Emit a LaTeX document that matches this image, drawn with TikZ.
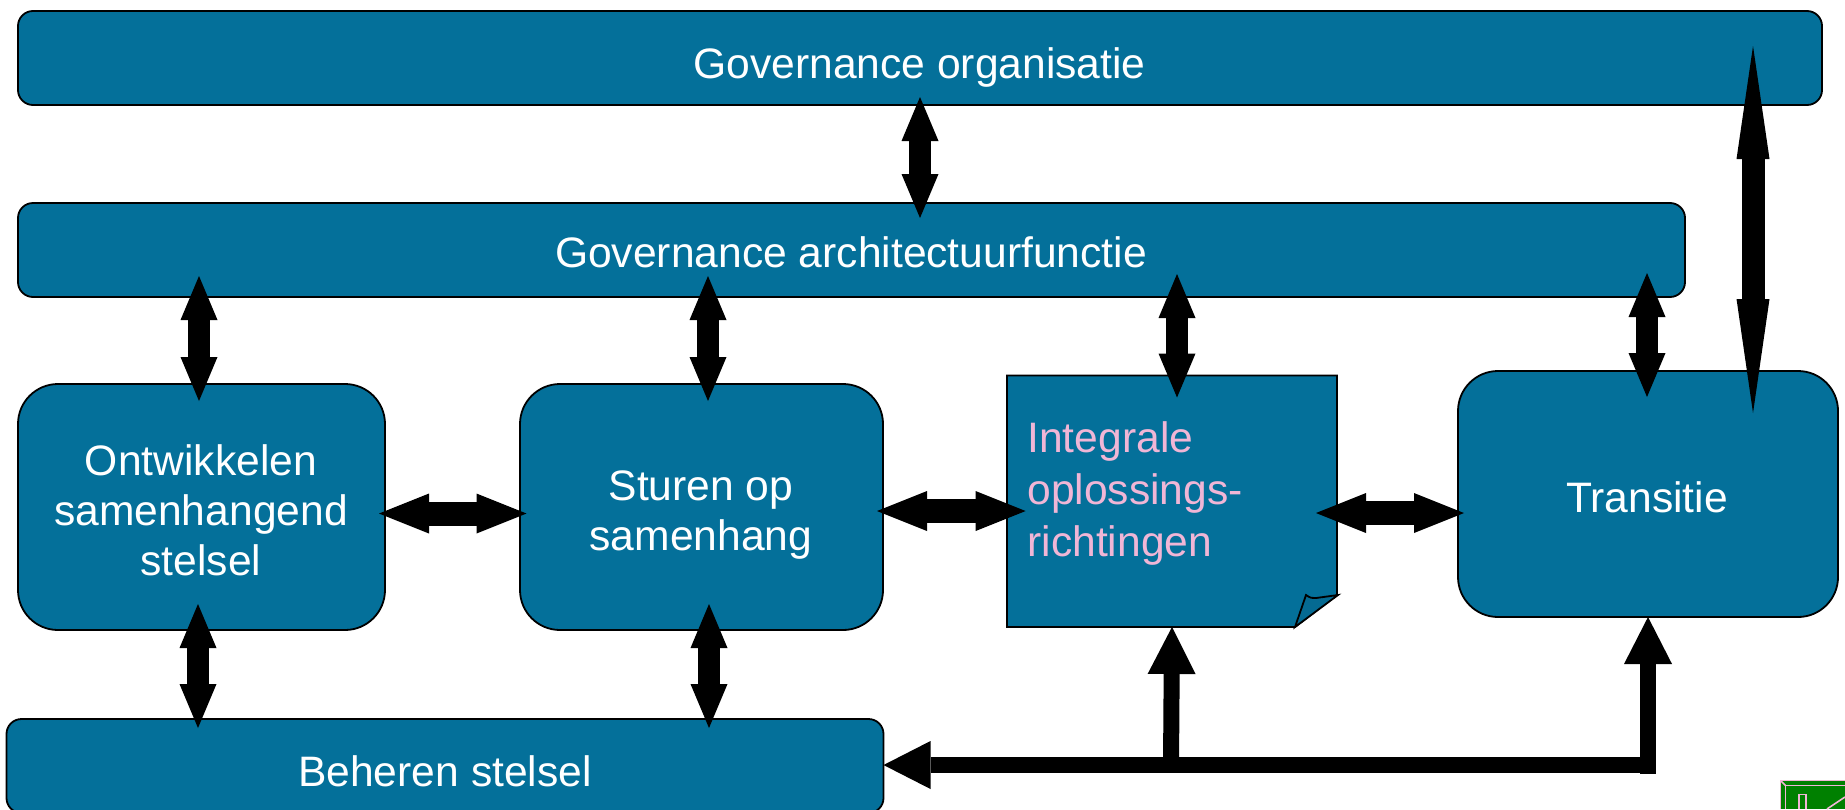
\documentclass[tikz,border=0pt]{standalone}
\usepackage{fontspec}
\setmainfont{Liberation Sans}
\usetikzlibrary{arrows.meta}
\definecolor{boxblue}{HTML}{04709A}
\definecolor{foldblue}{HTML}{056A92}
\definecolor{softpink}{HTML}{F0B6D6}
\definecolor{icongreen}{HTML}{008000}
\tikzset{
  x=0.5pt,y=-0.5pt,
  panel/.style={draw=black,line width=0.9pt,fill=boxblue,inner sep=0pt,outer sep=0pt,rounded corners=7.5pt},
  bigpanel/.style={panel,rounded corners=20pt},
  ghost/.style={inner sep=0pt,outer sep=0pt},
  caption/.style={text=white,inner sep=0pt,align=center,font=\fontsize{21.3}{25}\selectfont},
  pinkcaption/.style={text=softpink,inner sep=0pt,align=left,anchor=west,font=\fontsize{21.3}{26}\selectfont},
  vdouble/.style={line width=11pt,draw=black,{Triangle[length=22pt,width=18.5pt,line width=0pt]}-{Triangle[length=22pt,width=18.5pt,line width=0pt]}},
  hdouble/.style={line width=12pt,draw=black,{Triangle[length=25pt,width=20pt,line width=0pt]}-{Triangle[length=25pt,width=20pt,line width=0pt]}},
  tallarrow/.style={line width=11.5pt,draw=black,{Triangle[length=56.5pt,width=16.5pt,line width=0pt]}-{Triangle[length=57pt,width=16.5pt,line width=0pt]}},
  busarrow/.style={line width=8pt,draw=black,-{Triangle[length=23.5pt,width=24pt,line width=0pt]}},
  iconline/.style={draw=softpink,line width=0.8pt},
}
\begin{document}
\begin{tikzpicture}
\useasboundingbox (0,0) rectangle (1845,809);
\clip (0,0) rectangle (1845,809);
% boxes
\node[panel,minimum width=902pt,minimum height=47pt] (top) at (920,58) {};
\node[panel,minimum width=833.5pt,minimum height=47pt] (arch) at (851.5,250) {};
\node[bigpanel,minimum width=183.5pt,minimum height=123pt] (ont) at (201.5,507) {};
\node[bigpanel,minimum width=181.5pt,minimum height=123pt] (stu) at (701.5,507) {};
\node[bigpanel,minimum width=190pt,minimum height=123pt] (tra) at (1648,494) {};
\node[panel,minimum width=438.5pt,minimum height=47pt] (beh) at (445,766) {};
\node[ghost,minimum width=165pt,minimum height=125.75pt] (int) at (1172,501.25) {};
\draw[black,line width=0.9pt,fill=boxblue,line join=miter]
  (int.north west) -- (int.north east) -- (1337,595) -- (1295,627) -- (int.south west) -- cycle;
\draw[black,line width=0.9pt,fill=foldblue,line join=miter]
  (1295,627) -- (1306,595) .. controls (1310,598) and (1313,598.5) .. (1316,598) -- (1338,595) -- cycle;
% captions
\node[caption] (t1) at (919.5,67) {Governance organisatie};
\node[caption] (t2) at (851,252) {Governance architectuurfunctie};
\node[caption] (t3) at (201,510) {Ontwikkelen\\samenhangend\\stelsel};
\node[caption] (t4) at (701,515) {Sturen op\\samenhang};
\node[caption] (t5) at (1647,497) {Transitie};
\node[caption] (t6) at (445,771) {Beheren stelsel};
\node[pinkcaption] (t7) at (1027,493) {Integrale\\oplossings-\\richtingen};
% connector guides
\coordinate (xa) at (920,0);
\coordinate (xb) at (199,0);
\coordinate (xc) at (708,0);
\coordinate (xd) at (1177,0);
\coordinate (xe) at (1647,0);
\coordinate (xf) at (1753,0);
\coordinate (xg) at (198,0);
\coordinate (xh) at (709,0);
\coordinate (ya) at (0,513.5);
\coordinate (yb) at (0,511);
\coordinate (yc) at (0,513);
\coordinate (busright) at (1648,765);
\coordinate (busjoin) at (1171,765);
\coordinate (buscorner) at (1648,773.5);
\coordinate (intx) at (1172,0);
% double arrows
\draw[vdouble,shorten <=-4pt,shorten >=-7.5pt] (xa |- top.south) -- (xa |- arch.north);
\draw[vdouble,shorten <=-10.5pt,shorten >=-8.5pt] (xb |- arch.south) -- (xb |- ont.north);
\draw[vdouble,shorten <=-10.5pt,shorten >=-8.5pt] (xc |- arch.south) -- (xc |- stu.north);
\draw[vdouble,shorten <=-11.5pt,shorten >=-11pt] (xd |- arch.south) -- (xd |- int.north);
\draw[vdouble,shorten <=-12pt,shorten >=-13pt] (xe |- arch.south) -- (xe |- tra.north);
\draw[tallarrow,shorten <=-29.5pt,shorten >=-21pt] (xf |- top.south) -- (xf |- tra.north);
\draw[vdouble,shorten <=-13pt,shorten >=-4.5pt] (xg |- ont.south) -- (xg |- beh.north);
\draw[vdouble,shorten <=-13pt,shorten >=-4.5pt] (xh |- stu.south) -- (xh |- beh.north);
\draw[hdouble,shorten <=-3pt,shorten >=-3.25pt] (ont.east |- ya) -- (stu.west |- ya);
\draw[hdouble,shorten <=-3pt,shorten >=-9.3pt] (stu.east |- yb) -- (int.west |- yb);
\draw[hdouble,shorten <=-10.5pt,shorten >=-3pt] (int.east |- yc) -- (tra.west |- yc);
% bus
\draw[busarrow] (busright) -- (beh.east |- busright);
\draw[busarrow] (busjoin) -- (intx |- int.south);
\draw[busarrow] (buscorner) -- (buscorner |- tra.south);
% icon
\fill[icongreen] (1780,780) rectangle (1845,809);
\draw[iconline] (1845,780.5) -- (1780.5,780.5) -- (1780.5,809);
\draw[iconline] (1845,785.5) -- (1785.5,785.5) -- (1785.5,809);
\draw[iconline] (1780.5,780.5) -- (1785.5,785.5);
\draw[iconline] (1799,809) -- (1799,794.5) -- (1806,794.5) -- (1806,809);
\draw[iconline] (1827,809) -- (1845,797);
\end{tikzpicture}
\end{document}
